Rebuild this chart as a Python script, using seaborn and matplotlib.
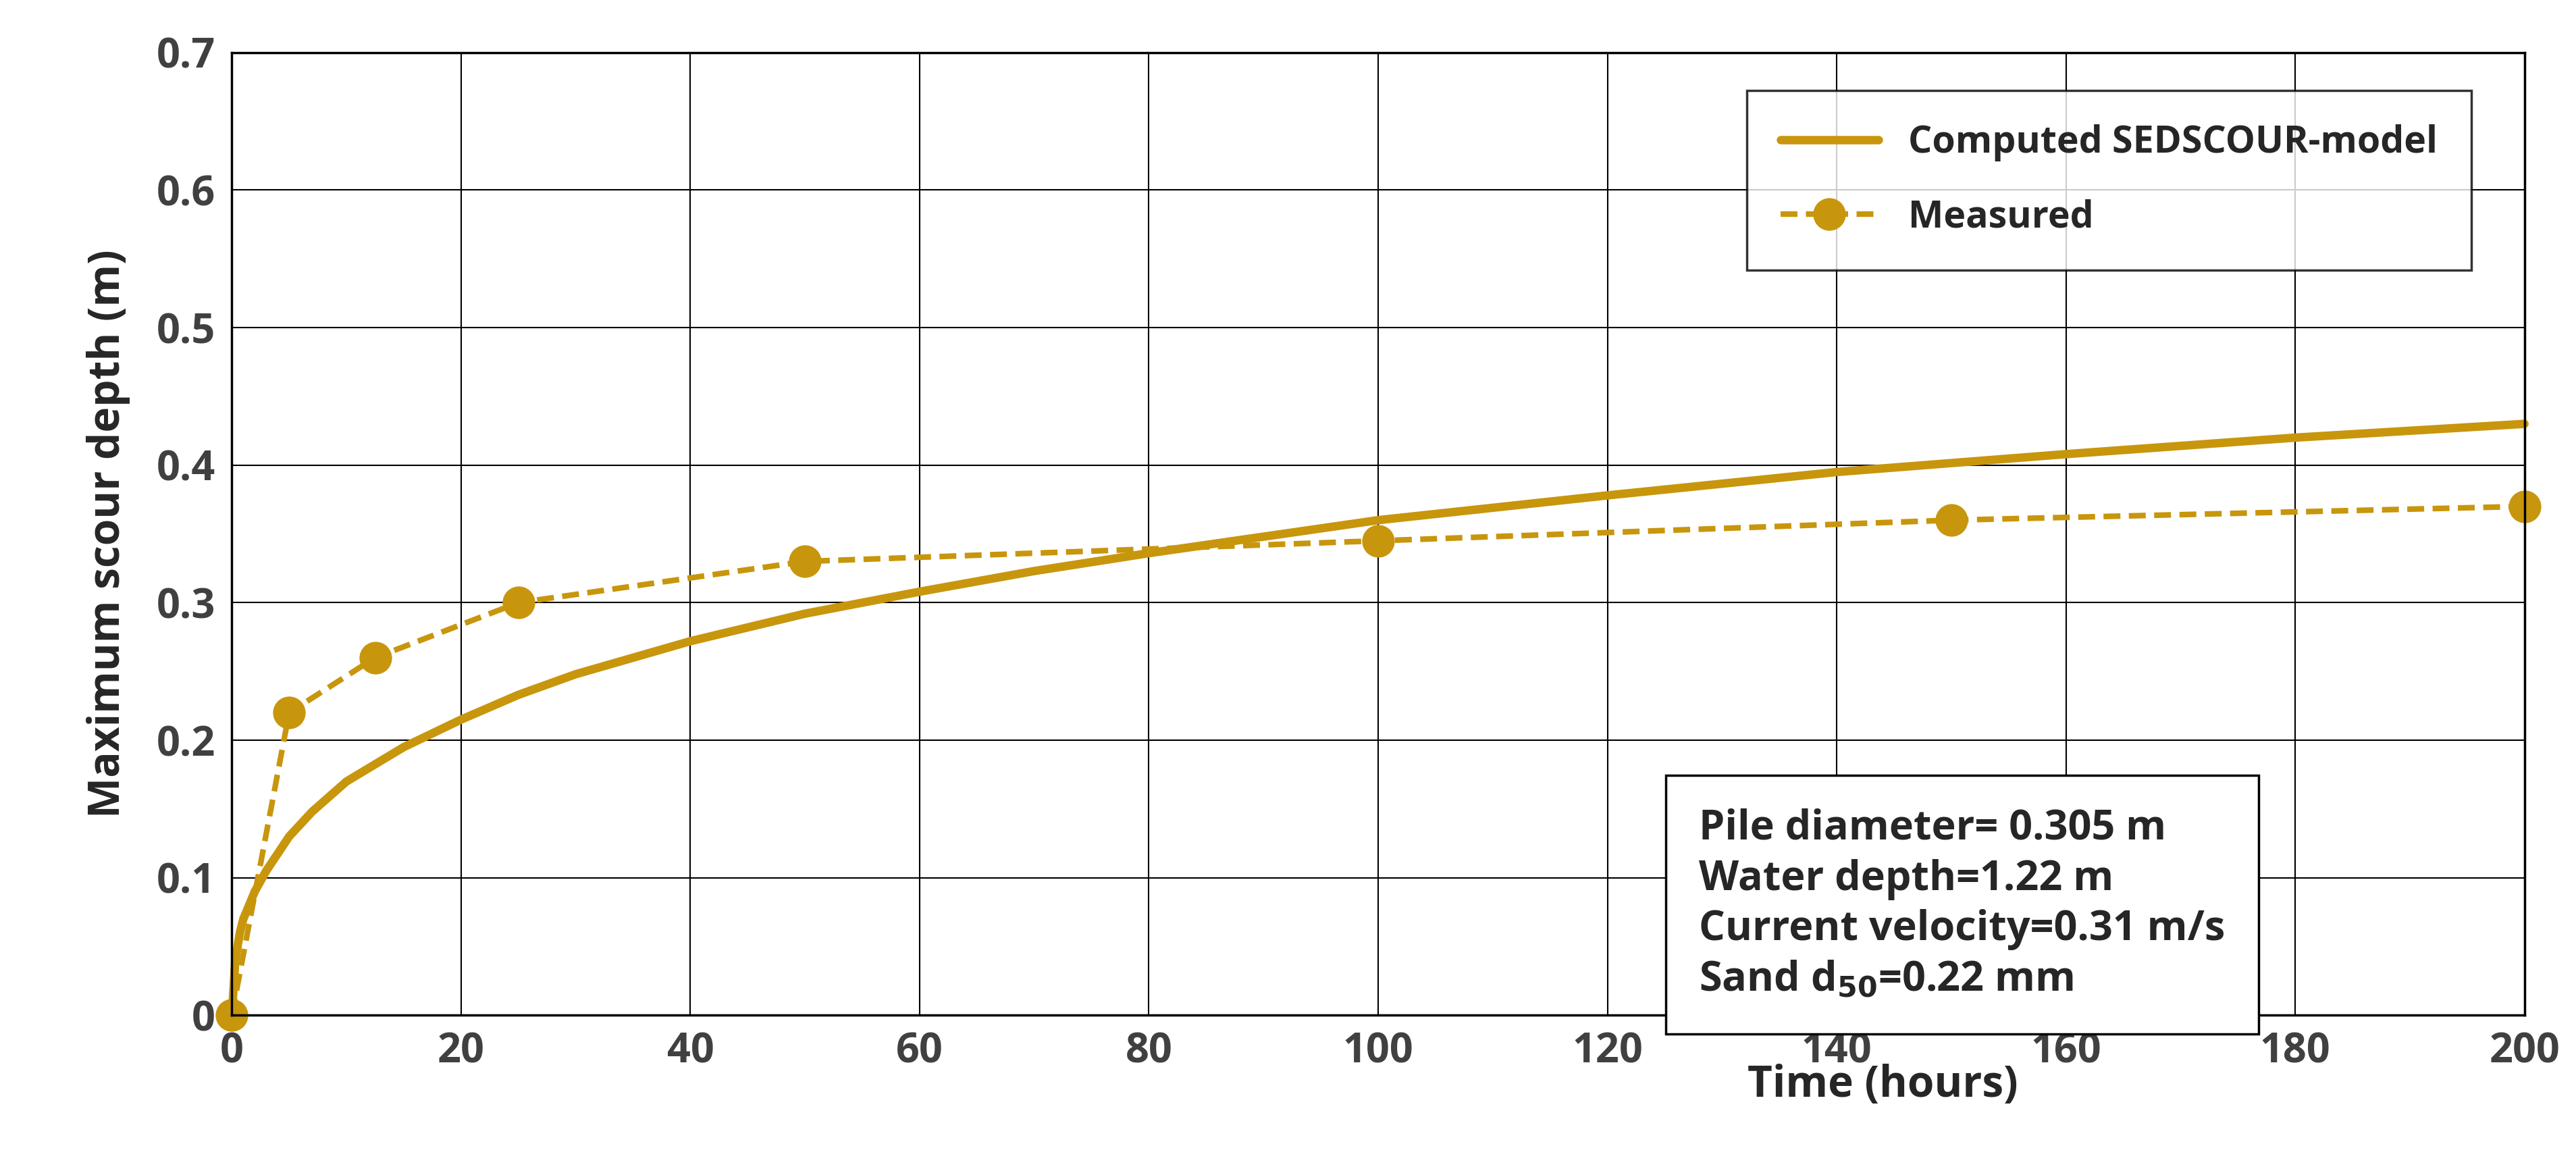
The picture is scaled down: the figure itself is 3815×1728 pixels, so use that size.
import matplotlib
matplotlib.use("Agg")
import matplotlib.pyplot as plt
import numpy as np
import seaborn as sns

# computed SEDSCOUR-model curve
t_model = [0, 0.3, 0.7, 1, 2, 3, 5, 7, 10, 15, 20, 25, 30, 40, 50, 60, 70, 80, 100, 120, 140, 160, 180, 200]
d_model = [0, 0.04, 0.06, 0.07, 0.09, 0.105, 0.13, 0.148, 0.17, 0.195, 0.215, 0.233, 0.248, 0.272, 0.292, 0.308, 0.323, 0.336, 0.36, 0.378, 0.395, 0.408, 0.42, 0.43]
# measured
t_meas = [0, 5, 12.5, 25, 50, 100, 150, 200]
d_meas = [0, 0.22, 0.26, 0.30, 0.33, 0.345, 0.36, 0.37]

gold = "#C8960C"
sns.set_style("white")
plt.rcParams['font.family'] = ['Open Sans', 'DejaVu Sans']
plt.rcParams['font.weight'] = 'bold'

fig = plt.figure(figsize=(38.15, 17.28), dpi=100)
ax = fig.add_axes([0.09, 0.13, 0.89, 0.825])
sns.lineplot(x=t_model, y=d_model, ax=ax, color=gold, lw=9, label="Computed SEDSCOUR-model", clip_on=False)
sns.lineplot(x=t_meas, y=d_meas, ax=ax, color=gold, lw=6, ls=(0, (3, 1.5)), marker="o",
             markersize=34, markeredgecolor=gold, label="Measured", clip_on=False)
ax.set_xlim(0, 200)
ax.set_ylim(0, 0.7)
ax.set_xticks(range(0, 201, 20))
ax.set_yticks(np.arange(0, 0.71, 0.1))
ax.set_yticklabels(["0", "0.1", "0.2", "0.3", "0.4", "0.5", "0.6", "0.7"])
ax.grid(True, color="black", lw=1.5)
for s in ax.spines.values():
    s.set_color("black"); s.set_linewidth(2.5)
ax.tick_params(labelsize=44, colors="#404040", pad=14)
for lab in ax.get_xticklabels() + ax.get_yticklabels():
    lab.set_fontweight("bold")
ax.set_ylabel("Maximum scour depth (m)", fontsize=46, fontweight="bold", labelpad=28)
ax.set_xlabel("Time (hours)", fontsize=46, fontweight="bold")
ax.xaxis.set_label_coords(0.72, -0.05)
leg = ax.legend(loc="upper right", bbox_to_anchor=(0.985, 0.98), fontsize=40, frameon=True,
                fancybox=False, edgecolor="black", handlelength=2.6, borderpad=0.9, labelspacing=1.0)
leg.get_frame().set_linewidth(2.5)
for tx in leg.get_texts():
    tx.set_fontweight("bold")
ax.text(0.64, 0.215,
        "Pile diameter= 0.305 m\nWater depth=1.22 m\nCurrent velocity=0.31 m/s\nSand d$_{\\mathbf{50}}$=0.22 mm",
        transform=ax.transAxes, fontsize=44, fontweight="bold", va="top", linespacing=1.3,
        bbox=dict(boxstyle="square,pad=0.8", fc="white", ec="black", lw=2.5))
fig.savefig("out.png", dpi=100)
